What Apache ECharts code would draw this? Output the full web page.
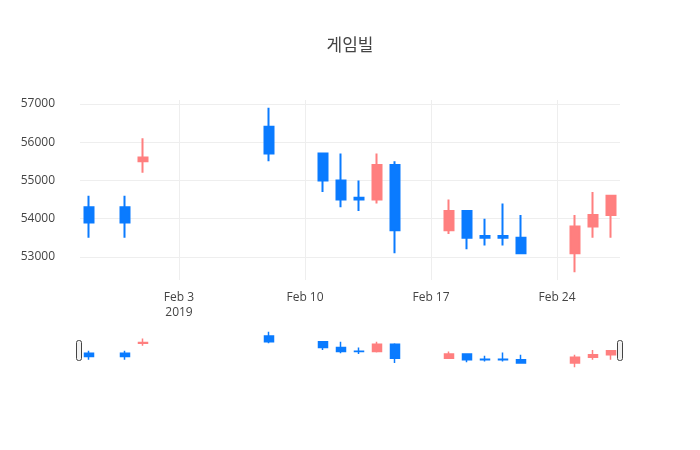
<!DOCTYPE html>
<html><head><meta charset="utf-8">
<script src="https://cdn.jsdelivr.net/npm/echarts@6/dist/echarts.min.js"></script>
<style>html,body{margin:0;padding:0;background:#fff}#c{width:700px;height:450px}</style>
</head><body><div id="c"></div>
<script>
const dates = ['2019-01-29','2019-01-31','2019-02-01','2019-02-08','2019-02-11','2019-02-12','2019-02-13','2019-02-14','2019-02-15','2019-02-18','2019-02-19','2019-02-20','2019-02-21','2019-02-22','2019-02-25','2019-02-26','2019-02-27'];
const open  = [54300,54300,55500,56400,55700,55000,54550,54500,55400,53700,54200,53550,53550,53500,53100,53800,54100];
const close = [53900,53900,55600,55700,55000,54500,54500,55400,53700,54200,53500,53500,53500,53100,53800,54100,54600];
const low   = [53500,53500,55200,55500,54700,54300,54200,54400,53100,53600,53200,53300,53300,53100,52600,53500,53500];
const high  = [54600,54600,56100,56900,55700,55700,55000,55700,55500,54500,54200,54000,54400,54100,54100,54700,54600];
const yTicks = [53000,54000,55000,56000,57000];
const xTickDates = ['2019-02-03','2019-02-10','2019-02-17','2019-02-24'];
const xTickLabels = ['Feb 3\n2019','Feb 10','Feb 17','Feb 24'];

const DAY = 86400000;
const ts = d => Date.parse(d + 'T00:00:00Z');
const data = dates.map((d,i)=>[ts(d), open[i], close[i], low[i], high[i]]);
const xMin = ts('2019-01-28') + DAY/2, xMax = ts('2019-02-27') + DAY/2;
const xTicks = xTickDates.map(ts);
const up = '#ff7f7f', down = '#0a7bff';
const font = '"Open Sans","Noto Sans CJK KR",sans-serif';

const chart = echarts.init(document.getElementById('c'));
chart.setOption({
  animation:false,
  title:{text:'게임빌', left:'center', top:33, textStyle:{fontFamily:font, fontSize:17, fontWeight:'normal', color:'#444'}},
  grid:[{left:80, width:540, top:100, height:180},{left:80, width:540, top:331, height:37}],
  xAxis:[{
    type:'value', gridIndex:0, min:xMin, max:xMax,
    axisLine:{show:false}, axisTick:{show:false, customValues:xTicks},
    axisLabel:{customValues:xTicks, formatter:v=>xTickLabels[xTicks.indexOf(v)]||'', color:'#444', fontFamily:font, fontSize:12, lineHeight:15, margin:10},
    splitLine:{show:true, lineStyle:{color:'#eee'}}
  },{
    type:'value', gridIndex:1, min:xMin, max:xMax, show:false
  }],
  yAxis:[{
    type:'value', gridIndex:0, min:52400, max:57100,
    axisLine:{show:false}, axisTick:{show:false, customValues:yTicks},
    axisLabel:{customValues:yTicks, formatter:v=>String(v), color:'#444', fontFamily:font, fontSize:12, margin:25},
    splitLine:{show:true, lineStyle:{color:'#eee'}}
  },{
    type:'value', gridIndex:1, min:52500, max:57000, show:false
  }],
  series:[{
    type:'candlestick', xAxisIndex:0, yAxisIndex:0, data:data, barWidth:10,
    encode:{x:0, y:[1,2,3,4]},
    itemStyle:{color:up, color0:down, borderColor:up, borderColor0:down, borderWidth:2}
  },{
    type:'candlestick', xAxisIndex:1, yAxisIndex:1, data:data, barWidth:10,
    encode:{x:0, y:[1,2,3,4]},
    itemStyle:{color:up, color0:down, borderColor:up, borderColor0:down, borderWidth:1.5}
  }],
  graphic:[
    {type:'rect', shape:{x:76.5, y:340.5, width:5, height:20, r:2}, style:{fill:'#f2f2f2', stroke:'#444', lineWidth:1}},
    {type:'rect', shape:{x:617.5, y:340.5, width:5, height:20, r:2}, style:{fill:'#f2f2f2', stroke:'#444', lineWidth:1}}
  ]
});
</script></body></html>
